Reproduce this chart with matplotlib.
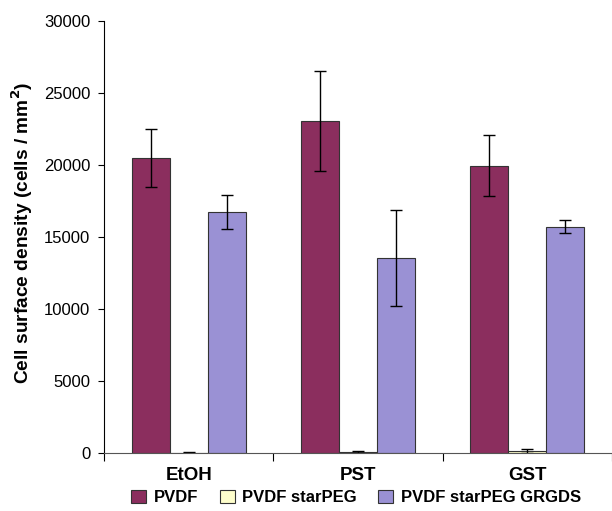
import matplotlib
matplotlib.use('Agg')
import matplotlib.pyplot as plt
import numpy as np

categories = ['EtOH', 'PST', 'GST']
series = ['PVDF', 'PVDF starPEG', 'PVDF starPEG GRGDS']
pvdf = [20500, 23050, 19950]
pvdf_err = [2000, 3500, 2100]
starpeg = [20, 80, 150]
starpeg_err = [20, 60, 150]
grgds = [16750, 13550, 15700]
grgds_err = [1200, 3350, 450]
colors = ['#8b2e5e', '#ffffcc', '#9a91d4']

plt.rcParams['font.family'] = ['Liberation Sans', 'DejaVu Sans']

fig = plt.figure(figsize=(6.12, 5.11), dpi=100)
ax = fig.add_axes([104/612, 1 - 453/511, (612-104)/612, (453-21)/511])

x = np.arange(len(categories))
w = 0.225
for i, (vals, errs) in enumerate([(pvdf, pvdf_err), (starpeg, starpeg_err), (grgds, grgds_err)]):
    ax.bar(x + (i - 1) * w, vals, w, color=colors[i], edgecolor='#333333',
           linewidth=0.8, label=series[i],
           yerr=errs, error_kw=dict(ecolor='black', elinewidth=1, capsize=4, capthick=1))

ax.set_xlim(-0.5, -0.5 + 508/173)
ax.set_ylim(0, 30000)
ax.set_yticks(range(0, 30001, 5000))
ax.tick_params(axis='y', labelsize=12, direction='out', length=4.3, width=0.8, pad=5.5)
ax.set_xticks(x)
ax.set_xticklabels(categories, fontsize=13.5, fontweight='bold')
ax.tick_params(axis='x', length=0, pad=10)
ax.set_xticks([-0.5, 0.5, 1.5, 2.5], minor=True)
ax.tick_params(axis='x', which='minor', length=6, width=0.8, direction='out')
for s in ['top', 'right']:
    ax.spines[s].set_visible(False)
ax.spines['left'].set_linewidth(0.8)
ax.spines['bottom'].set_linewidth(0.8)
ax.spines['bottom'].set_color('#555555')

ax.set_ylabel('Cell surface density (cells / mm$^\\mathbf{2}$)', fontsize=13.8,
              fontweight='bold')
ax.yaxis.set_label_coords(-0.136, 0.509)

leg = fig.legend(loc='lower center', bbox_to_anchor=(0.5 + 50/612, -0.018), ncol=3, frameon=False,
                 prop=dict(size=12, weight='bold'), handlelength=0.9, handleheight=0.9,
                 handletextpad=0.45, columnspacing=1.3)

fig.savefig('out.png', dpi=100)
